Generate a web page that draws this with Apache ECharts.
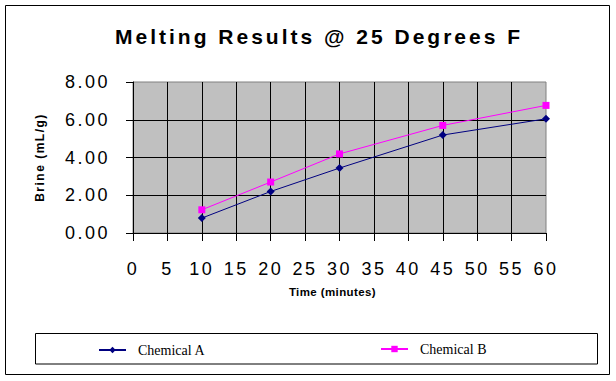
<!DOCTYPE html>
<html>
<head>
<meta charset="utf-8">
<script src="https://cdn.jsdelivr.net/npm/echarts@6/dist/echarts.min.js"></script>
<style>
html,body{margin:0;padding:0;background:#fff;}
#chart{width:616px;height:381px;}
</style>
</head>
<body>
<div id="chart"></div>
<script>
var TITLE = 'Melting Results @ 25 Degrees F';
var times = [10, 20, 30, 45, 60];
var chemicalA = [0.79, 2.20, 3.44, 5.19, 6.05];
var chemicalB = [1.23, 2.70, 4.19, 5.70, 6.76];
var seriesNames = ['Chemical A', 'Chemical B'];
var xName = 'Time (minutes)';
var yName = 'Brine (mL/g)';

function pairs(xs, ys) { return xs.map(function (x, i) { return [x, ys[i]]; }); }

var chart = echarts.init(document.getElementById('chart'), null, {renderer: 'svg'});
var FONT = 'Liberation Sans';
chart.setOption({
  animation: false,
  backgroundColor: '#ffffff',
  title: {
    text: TITLE, left: 314, top: 21, textAlign: 'center',
    textStyle: {fontFamily: FONT, fontSize: 21, fontWeight: 'bold', color: '#000'}
  },
  grid: {
    left: 133, top: 82, width: 413, height: 151,
    show: true, backgroundColor: '#C0C0C0', borderColor: '#808080', borderWidth: 1
  },
  xAxis: {
    type: 'value', min: 0, max: 60, interval: 5,
    name: xName, nameLocation: 'middle', nameGap: 53,
    nameTextStyle: {fontFamily: FONT, fontSize: 11.5, fontWeight: 'bold', color: '#000', padding: [0, 14, 0, 0]},
    axisLine: {show: true, lineStyle: {color: '#000', width: 1}},
    axisTick: {show: true, length: 8, lineStyle: {color: '#000'}},
    axisLabel: {fontFamily: FONT, fontSize: 18, color: '#000', margin: 27},
    splitLine: {show: true, showMaxLine: false, lineStyle: {color: '#000', width: 1}}
  },
  yAxis: {
    type: 'value', min: 0, max: 8, interval: 2,
    name: yName, nameLocation: 'middle', nameGap: 87,
    nameTextStyle: {fontFamily: FONT, fontSize: 12, fontWeight: 'bold', color: '#000'},
    axisLine: {show: true, lineStyle: {color: '#000', width: 1}},
    axisTick: {show: true, length: 7, lineStyle: {color: '#000'}},
    axisLabel: {fontFamily: FONT, fontSize: 18, color: '#000', margin: 23,
      formatter: function (v) { return v.toFixed(2); }},
    splitLine: {show: true, showMaxLine: false, lineStyle: {color: '#000', width: 1}}
  },
  legend: [
    {data: [seriesNames[0]], left: 98, top: 343, padding: 0, itemWidth: 27, itemHeight: 8,
     textStyle: {fontFamily: 'Liberation Serif', fontSize: 14, color: '#000', padding: [0, 0, 0, 7]}},
    {data: [seriesNames[1]], left: 380, top: 342, padding: 0, itemWidth: 27, itemHeight: 8,
     textStyle: {fontFamily: 'Liberation Serif', fontSize: 14, color: '#000', padding: [0, 0, 0, 7]}}
  ],
  graphic: [
    {type: 'rect', shape: {x: 5.5, y: 5.5, width: 604, height: 369}, style: {fill: null, stroke: '#000', lineWidth: 1}, z: -1},
    {type: 'rect', shape: {x: 35.5, y: 333.5, width: 562, height: 30.5}, style: {fill: null, stroke: '#000', lineWidth: 1}, z: -1}
  ],
  series: [
    {name: seriesNames[0], type: 'line', data: pairs(times, chemicalA), color: '#000080',
     symbol: 'diamond', symbolSize: 8, lineStyle: {width: 1, color: '#000080'},
     itemStyle: {color: '#000080'}, z: 3},
    {name: seriesNames[1], type: 'line', data: pairs(times, chemicalB), color: '#FF00FF',
     symbol: 'rect', symbolSize: 7, lineStyle: {width: 1, color: '#FF00FF'},
     itemStyle: {color: '#FF00FF'}, z: 4}
  ]
});

function applySpacing() {
  var texts = document.querySelectorAll('#chart text');
  texts.forEach(function (t) {
    var s = t.textContent;
    if (s === TITLE) t.style.letterSpacing = '3px';
    else if (/^\d+(\.\d+)?$/.test(s)) t.style.letterSpacing = '2.5px';
    else if (s === yName) t.style.letterSpacing = '1.5px';
    else if (s === xName) t.style.letterSpacing = '0.4px';
  });
}
applySpacing();
chart.on('finished', applySpacing);
setTimeout(applySpacing, 0);
setTimeout(applySpacing, 50);
</script>
</body>
</html>
